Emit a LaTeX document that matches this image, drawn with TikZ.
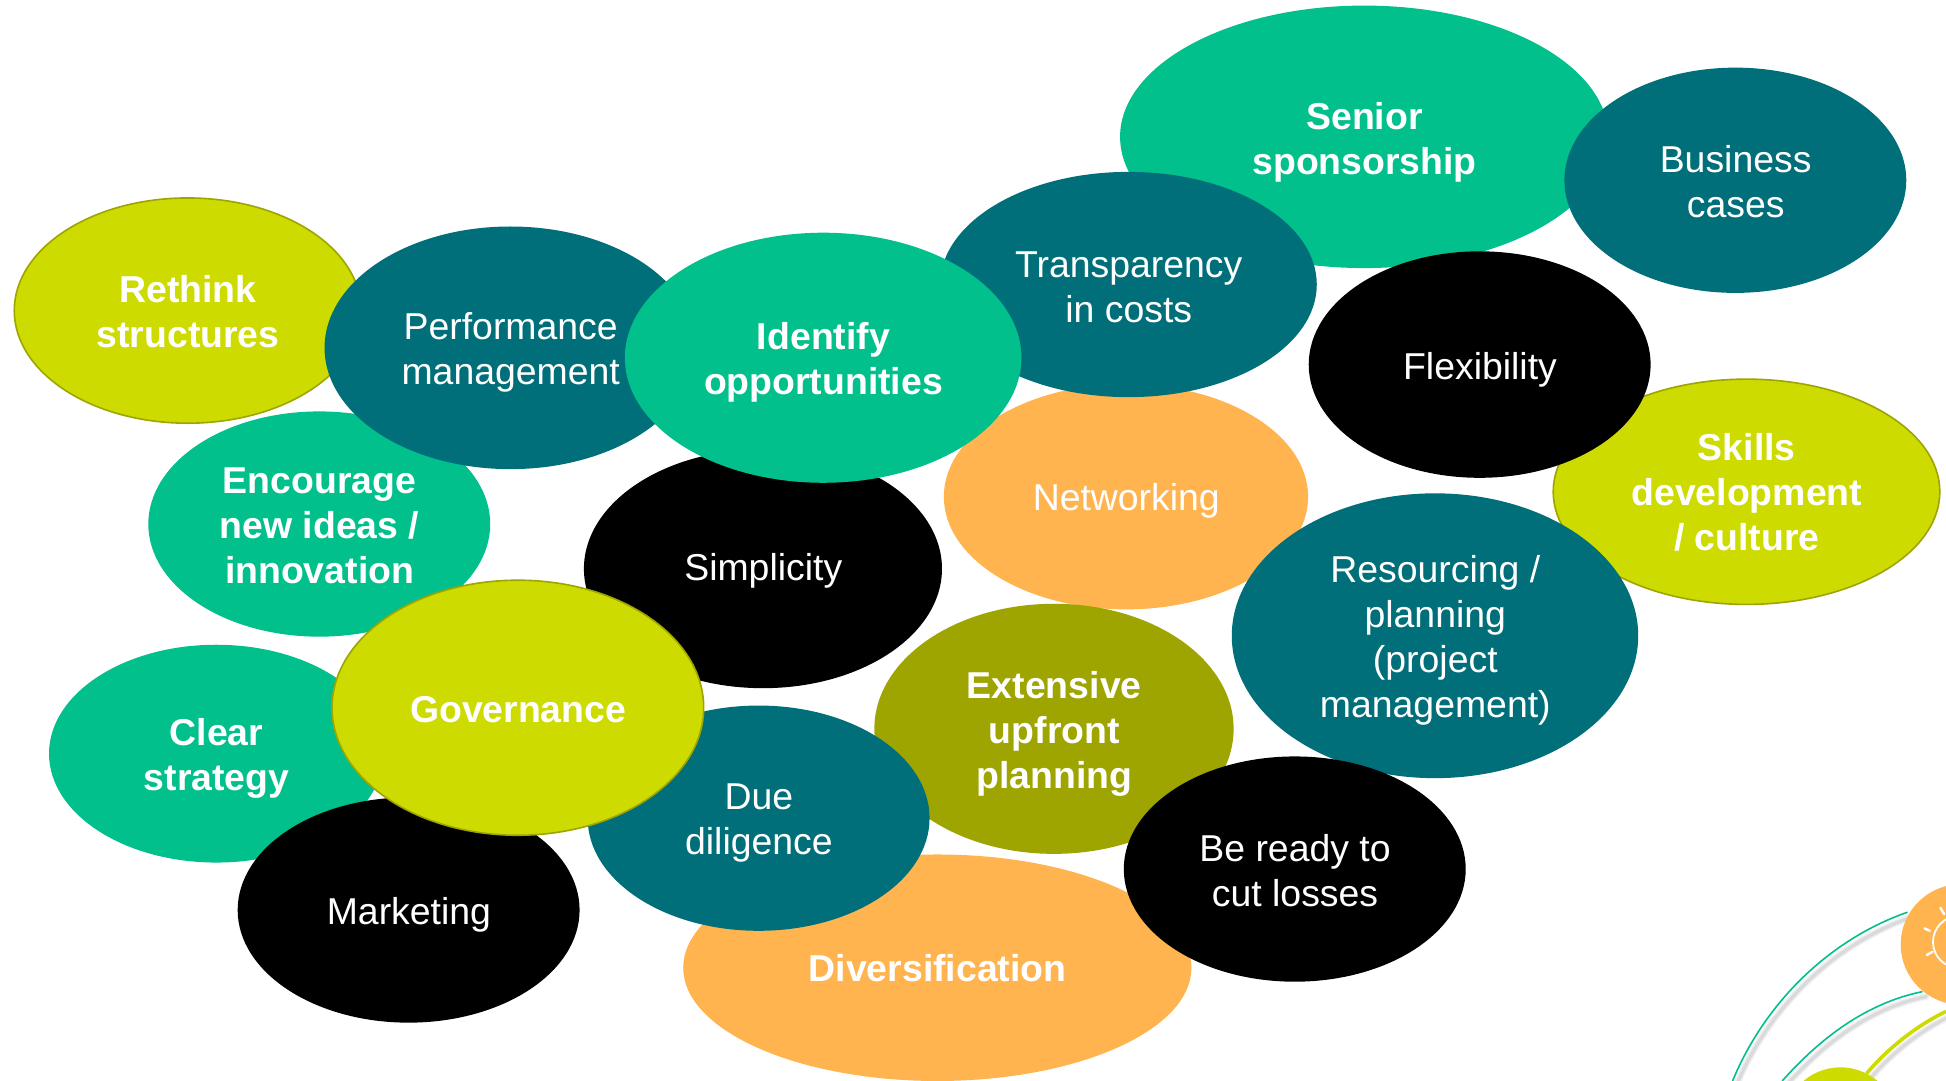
\documentclass[tikz,border=0pt]{standalone}
\usepackage{fontspec}
\setmainfont{Liberation Sans}
\definecolor{cgreen}{HTML}{02C08C}
\definecolor{cteal}{HTML}{006F79}
\definecolor{cyel}{HTML}{CEDB00}
\definecolor{corange}{HTML}{FFB44F}
\definecolor{colive}{HTML}{9EA400}
\tikzset{
 txt/.style={text=white,align=center,inner sep=0pt,font=\fontsize{37.4}{45}\selectfont},
 btxt/.style={txt,font=\fontsize{37.4}{45}\selectfont\bfseries},
 rimmed/.style={draw=colive,line width=1.6pt},
 arcline/.style={draw=cgreen,line width=1.6pt},
 arcshadow/.style={draw=black,line cap=round},
}
% name, cx, cy, rx, ry, colour & options, text style, text, text dy
\newcommand{\bub}[9]{%
  \path[fill=#6] ({#2+.25},{#3+.25}) ellipse [x radius={#4-.25}, y radius={#5-.25}];
  \node[#7] (#1) at ({#2+.5},{#3+#9}) {#8};
}
\begin{document}
\begin{tikzpicture}[x=1.2411pt,y=-1.2411pt]
\useasboundingbox (0,0) rectangle (1568,871);
\fill[white] (0,0) rectangle (1568,871);
\bub{rethink}{151}{250}{140}{91}{cyel,rimmed}{btxt}{Rethink\\structures}{1.5}
\bub{encourage}{257}{422}{138}{91}{cgreen}{btxt}{Encourage\\new ideas /\\innovation}{2}
\bub{perf}{411}{280}{150}{98}{cteal}{txt}{Performance\\management}{4}
\bub{clear}{174}{607}{135}{88}{cgreen}{btxt}{Clear\\strategy}{4}
\bub{simpl}{614.5}{458}{144.5}{96.5}{black}{txt}{Simplicity}{2}
\bub{senior}{1099}{110}{197}{106}{cgreen}{btxt}{Senior\\sponsorship}{5}
\bub{business}{1398}{145}{138}{91}{cteal}{txt}{Business\\cases}{1}
\bub{skills}{1407}{396}{156}{91}{cyel,rimmed}{btxt}{Skills\\development\\/ culture}{1}
\bub{flex}{1192}{293.5}{138}{91.5}{black}{txt}{Flexibility}{4.5}
\bub{network}{907}{400}{147}{91}{corange}{txt}{Networking}{3.5}
\bub{transp}{909}{229}{152}{91}{cteal}{txt}{Transparency\\in costs}{2.5}
\bub{identify}{663}{288}{160}{101}{cgreen}{btxt}{Identify\\opportunities}{4}
\bub{resourcing}{1156}{512}{164}{115}{cteal}{txt}{Resourcing /\\planning\\(project\\management)}{4}
\bub{extensive}{849}{587}{145}{101}{colive}{btxt}{Extensive\\upfront\\planning}{4}
\bub{divers}{755}{779.5}{205}{91.5}{corange}{btxt}{Diversification}{0.5}
\bub{due}{611}{659}{138}{91}{cteal}{txt}{Due\\diligence}{4.5}
\bub{ready}{1043}{700}{138}{91}{black}{txt}{Be ready to\\cut losses}{1.5}
\bub{marketing}{329}{733}{138}{91}{black}{txt}{Marketing}{4}
\bub{gov}{417}{570}{150}{103}{cyel,rimmed}{btxt}{Governance}{1.5}
% corner detail
\begin{scope}
\clip (0,0) rectangle (1568,871);
\begin{scope}[shift={(3,4)}]
\foreach \w/\o in {7/.04,5/.05,3/.06}{
 \draw[arcshadow,line width=\w pt,opacity=\o] (1396,871) .. controls (1422,808) and (1474,757) .. (1537,735);
 \draw[arcshadow,line width=\w pt,opacity=\o] (1436,871) .. controls (1468,835) and (1505,808) .. (1549,799);
 \draw[arcshadow,line width=\w pt,opacity=\o] (1504,865) .. controls (1520,846) and (1543,827) .. (1568,815);
}
\end{scope}
\draw[arcline] (1396,871) .. controls (1422,808) and (1474,757) .. (1537,735);
\draw[arcline] (1436,871) .. controls (1468,835) and (1505,808) .. (1549,799);
\draw[cyel,line width=3.6pt] (1504,865) .. controls (1520,846) and (1543,827) .. (1568,815);
\fill[cyel] (1483,906) circle (46);
\fill[corange] (1580,761) circle (48.5);
\draw[white,line width=1.8pt] (1578.5,759) circle (21);
\foreach \a/\b/\c/\d in {1563.5/731.5/1566.5/736.5, 1550.5/748/1555/750, 1552.5/769.5/1557/767}{
 \draw[white,line width=2.4pt,line cap=round] (\a,\b) -- (\c,\d);
}
\end{scope}
\end{tikzpicture}
\end{document}
